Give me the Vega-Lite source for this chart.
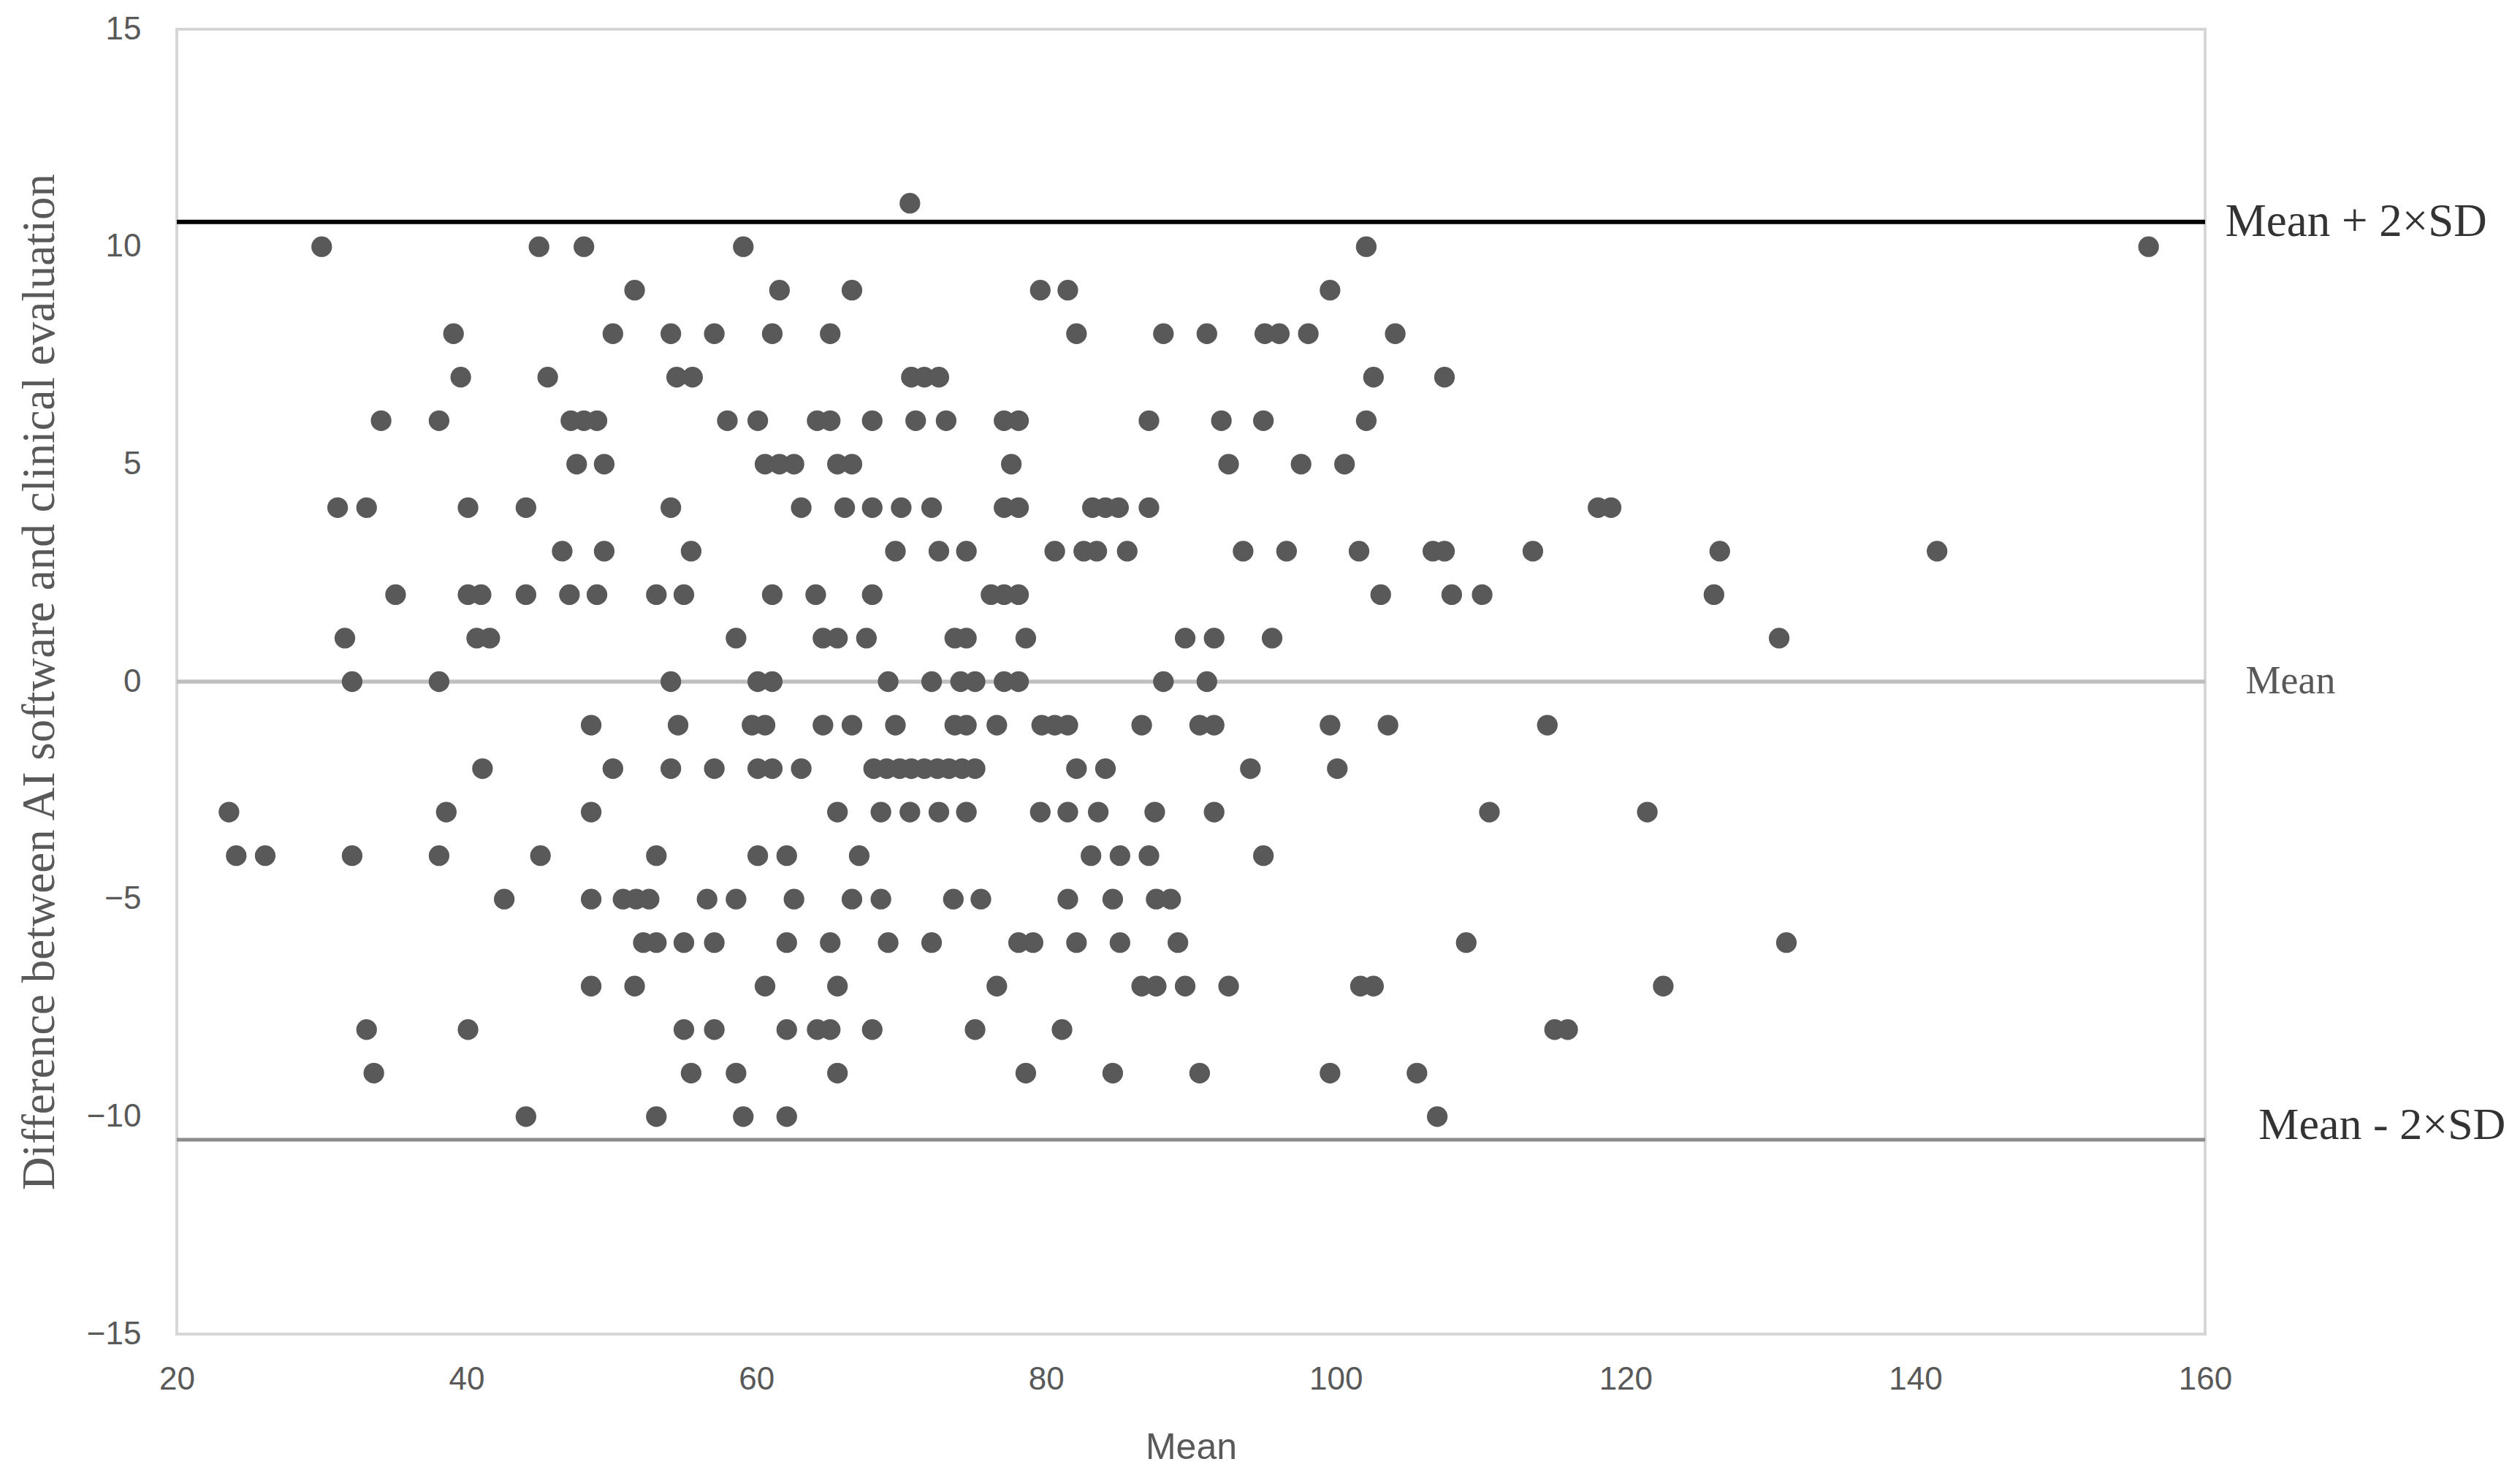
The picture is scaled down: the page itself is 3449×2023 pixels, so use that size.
{
  "$schema": "https://vega.github.io/schema/vega-lite/v6.json",
  "width": 2776,
  "height": 1786,
  "autosize": {"type": "none"},
  "padding": {"left": 242, "top": 40, "right": 431, "bottom": 197},
  "background": "white",
  "config": {"view": {"stroke": "#d6d6d6", "strokeWidth": 4}},
  "datasets": {
    "lines": [
      {"label": "Mean + 2×SD", "value": 10.57},
      {"label": "Mean", "value": 0},
      {"label": "Mean - 2×SD", "value": -10.53}
    ],
    "points": [
      {"mean": 70.6, "diff": 11},
      {"mean": 30.0, "diff": 10}, {"mean": 45.0, "diff": 10}, {"mean": 48.1, "diff": 10}, {"mean": 59.1, "diff": 10}, {"mean": 102.1, "diff": 10}, {"mean": 156.1, "diff": 10},
      {"mean": 51.6, "diff": 9}, {"mean": 61.6, "diff": 9}, {"mean": 66.6, "diff": 9}, {"mean": 79.6, "diff": 9}, {"mean": 81.5, "diff": 9}, {"mean": 99.6, "diff": 9},
      {"mean": 39.1, "diff": 8}, {"mean": 50.1, "diff": 8}, {"mean": 54.1, "diff": 8}, {"mean": 57.1, "diff": 8}, {"mean": 61.1, "diff": 8}, {"mean": 65.1, "diff": 8}, {"mean": 82.1, "diff": 8}, {"mean": 88.1, "diff": 8}, {"mean": 91.1, "diff": 8}, {"mean": 95.1, "diff": 8}, {"mean": 96.1, "diff": 8}, {"mean": 98.1, "diff": 8}, {"mean": 104.1, "diff": 8},
      {"mean": 39.6, "diff": 7}, {"mean": 45.6, "diff": 7}, {"mean": 54.5, "diff": 7}, {"mean": 55.6, "diff": 7}, {"mean": 70.7, "diff": 7}, {"mean": 71.6, "diff": 7}, {"mean": 72.6, "diff": 7}, {"mean": 102.6, "diff": 7}, {"mean": 107.5, "diff": 7},
      {"mean": 34.1, "diff": 6}, {"mean": 38.1, "diff": 6}, {"mean": 47.2, "diff": 6}, {"mean": 48.1, "diff": 6}, {"mean": 49.0, "diff": 6}, {"mean": 58.0, "diff": 6}, {"mean": 60.1, "diff": 6}, {"mean": 64.2, "diff": 6}, {"mean": 65.1, "diff": 6}, {"mean": 68.0, "diff": 6}, {"mean": 71.0, "diff": 6}, {"mean": 73.1, "diff": 6}, {"mean": 77.1, "diff": 6}, {"mean": 78.1, "diff": 6}, {"mean": 87.1, "diff": 6}, {"mean": 92.1, "diff": 6}, {"mean": 95.0, "diff": 6}, {"mean": 102.1, "diff": 6},
      {"mean": 47.6, "diff": 5}, {"mean": 49.5, "diff": 5}, {"mean": 60.6, "diff": 5}, {"mean": 61.6, "diff": 5}, {"mean": 62.6, "diff": 5}, {"mean": 65.6, "diff": 5}, {"mean": 66.6, "diff": 5}, {"mean": 77.6, "diff": 5}, {"mean": 92.6, "diff": 5}, {"mean": 97.6, "diff": 5}, {"mean": 100.6, "diff": 5},
      {"mean": 31.1, "diff": 4}, {"mean": 33.1, "diff": 4}, {"mean": 40.1, "diff": 4}, {"mean": 44.1, "diff": 4}, {"mean": 54.1, "diff": 4}, {"mean": 63.1, "diff": 4}, {"mean": 66.1, "diff": 4}, {"mean": 68.0, "diff": 4}, {"mean": 70.0, "diff": 4}, {"mean": 72.1, "diff": 4}, {"mean": 77.1, "diff": 4}, {"mean": 78.1, "diff": 4}, {"mean": 83.2, "diff": 4}, {"mean": 84.1, "diff": 4}, {"mean": 85.0, "diff": 4}, {"mean": 87.1, "diff": 4}, {"mean": 118.1, "diff": 4}, {"mean": 119.0, "diff": 4},
      {"mean": 46.6, "diff": 3}, {"mean": 49.5, "diff": 3}, {"mean": 55.5, "diff": 3}, {"mean": 69.6, "diff": 3}, {"mean": 72.6, "diff": 3}, {"mean": 74.5, "diff": 3}, {"mean": 80.6, "diff": 3}, {"mean": 82.6, "diff": 3}, {"mean": 83.5, "diff": 3}, {"mean": 85.6, "diff": 3}, {"mean": 93.6, "diff": 3}, {"mean": 96.6, "diff": 3}, {"mean": 101.6, "diff": 3}, {"mean": 106.7, "diff": 3}, {"mean": 107.5, "diff": 3}, {"mean": 113.6, "diff": 3}, {"mean": 126.5, "diff": 3}, {"mean": 141.5, "diff": 3},
      {"mean": 35.1, "diff": 2}, {"mean": 40.1, "diff": 2}, {"mean": 41.0, "diff": 2}, {"mean": 44.1, "diff": 2}, {"mean": 47.1, "diff": 2}, {"mean": 49.0, "diff": 2}, {"mean": 53.1, "diff": 2}, {"mean": 55.0, "diff": 2}, {"mean": 61.1, "diff": 2}, {"mean": 64.1, "diff": 2}, {"mean": 68.0, "diff": 2}, {"mean": 76.2, "diff": 2}, {"mean": 77.1, "diff": 2}, {"mean": 78.1, "diff": 2}, {"mean": 103.1, "diff": 2}, {"mean": 108.0, "diff": 2}, {"mean": 110.1, "diff": 2}, {"mean": 126.1, "diff": 2},
      {"mean": 31.6, "diff": 1}, {"mean": 40.7, "diff": 1}, {"mean": 41.6, "diff": 1}, {"mean": 58.6, "diff": 1}, {"mean": 64.6, "diff": 1}, {"mean": 65.6, "diff": 1}, {"mean": 67.6, "diff": 1}, {"mean": 73.7, "diff": 1}, {"mean": 74.5, "diff": 1}, {"mean": 78.6, "diff": 1}, {"mean": 89.6, "diff": 1}, {"mean": 91.6, "diff": 1}, {"mean": 95.6, "diff": 1}, {"mean": 130.6, "diff": 1},
      {"mean": 32.1, "diff": 0}, {"mean": 38.1, "diff": 0}, {"mean": 54.1, "diff": 0}, {"mean": 60.1, "diff": 0}, {"mean": 61.1, "diff": 0}, {"mean": 69.1, "diff": 0}, {"mean": 72.1, "diff": 0}, {"mean": 74.1, "diff": 0}, {"mean": 75.1, "diff": 0}, {"mean": 77.1, "diff": 0}, {"mean": 78.1, "diff": 0}, {"mean": 88.1, "diff": 0}, {"mean": 91.1, "diff": 0},
      {"mean": 48.6, "diff": -1}, {"mean": 54.6, "diff": -1}, {"mean": 59.7, "diff": -1}, {"mean": 60.6, "diff": -1}, {"mean": 64.6, "diff": -1}, {"mean": 66.6, "diff": -1}, {"mean": 69.6, "diff": -1}, {"mean": 73.7, "diff": -1}, {"mean": 74.5, "diff": -1}, {"mean": 76.6, "diff": -1}, {"mean": 79.7, "diff": -1}, {"mean": 80.6, "diff": -1}, {"mean": 81.5, "diff": -1}, {"mean": 86.6, "diff": -1}, {"mean": 90.6, "diff": -1}, {"mean": 91.6, "diff": -1}, {"mean": 99.6, "diff": -1}, {"mean": 103.6, "diff": -1}, {"mean": 114.6, "diff": -1},
      {"mean": 41.1, "diff": -2}, {"mean": 50.1, "diff": -2}, {"mean": 54.1, "diff": -2}, {"mean": 57.1, "diff": -2}, {"mean": 60.1, "diff": -2}, {"mean": 61.1, "diff": -2}, {"mean": 63.1, "diff": -2}, {"mean": 68.1, "diff": -2}, {"mean": 69.0, "diff": -2}, {"mean": 69.9, "diff": -2}, {"mean": 70.7, "diff": -2}, {"mean": 71.6, "diff": -2}, {"mean": 72.5, "diff": -2}, {"mean": 73.3, "diff": -2}, {"mean": 74.2, "diff": -2}, {"mean": 75.1, "diff": -2}, {"mean": 82.1, "diff": -2}, {"mean": 84.1, "diff": -2}, {"mean": 94.1, "diff": -2}, {"mean": 100.1, "diff": -2},
      {"mean": 23.6, "diff": -3}, {"mean": 38.6, "diff": -3}, {"mean": 48.6, "diff": -3}, {"mean": 65.6, "diff": -3}, {"mean": 68.6, "diff": -3}, {"mean": 70.6, "diff": -3}, {"mean": 72.6, "diff": -3}, {"mean": 74.5, "diff": -3}, {"mean": 79.6, "diff": -3}, {"mean": 81.5, "diff": -3}, {"mean": 83.6, "diff": -3}, {"mean": 87.5, "diff": -3}, {"mean": 91.6, "diff": -3}, {"mean": 110.6, "diff": -3}, {"mean": 121.5, "diff": -3},
      {"mean": 24.1, "diff": -4}, {"mean": 26.1, "diff": -4}, {"mean": 32.1, "diff": -4}, {"mean": 38.1, "diff": -4}, {"mean": 45.1, "diff": -4}, {"mean": 53.1, "diff": -4}, {"mean": 60.1, "diff": -4}, {"mean": 62.1, "diff": -4}, {"mean": 67.1, "diff": -4}, {"mean": 83.1, "diff": -4}, {"mean": 85.1, "diff": -4}, {"mean": 87.1, "diff": -4}, {"mean": 95.0, "diff": -4},
      {"mean": 42.6, "diff": -5}, {"mean": 48.6, "diff": -5}, {"mean": 50.8, "diff": -5}, {"mean": 51.7, "diff": -5}, {"mean": 52.6, "diff": -5}, {"mean": 56.6, "diff": -5}, {"mean": 58.6, "diff": -5}, {"mean": 62.6, "diff": -5}, {"mean": 66.6, "diff": -5}, {"mean": 68.6, "diff": -5}, {"mean": 73.6, "diff": -5}, {"mean": 75.5, "diff": -5}, {"mean": 81.5, "diff": -5}, {"mean": 84.6, "diff": -5}, {"mean": 87.6, "diff": -5}, {"mean": 88.6, "diff": -5},
      {"mean": 52.2, "diff": -6}, {"mean": 53.1, "diff": -6}, {"mean": 55.0, "diff": -6}, {"mean": 57.1, "diff": -6}, {"mean": 62.1, "diff": -6}, {"mean": 65.1, "diff": -6}, {"mean": 69.1, "diff": -6}, {"mean": 72.1, "diff": -6}, {"mean": 78.1, "diff": -6}, {"mean": 79.1, "diff": -6}, {"mean": 82.1, "diff": -6}, {"mean": 85.1, "diff": -6}, {"mean": 89.1, "diff": -6}, {"mean": 109.0, "diff": -6}, {"mean": 131.1, "diff": -6},
      {"mean": 48.6, "diff": -7}, {"mean": 51.6, "diff": -7}, {"mean": 60.6, "diff": -7}, {"mean": 65.6, "diff": -7}, {"mean": 76.6, "diff": -7}, {"mean": 86.6, "diff": -7}, {"mean": 87.6, "diff": -7}, {"mean": 89.6, "diff": -7}, {"mean": 92.6, "diff": -7}, {"mean": 101.7, "diff": -7}, {"mean": 102.6, "diff": -7}, {"mean": 122.6, "diff": -7},
      {"mean": 33.1, "diff": -8}, {"mean": 40.1, "diff": -8}, {"mean": 55.0, "diff": -8}, {"mean": 57.1, "diff": -8}, {"mean": 62.1, "diff": -8}, {"mean": 64.2, "diff": -8}, {"mean": 65.1, "diff": -8}, {"mean": 68.0, "diff": -8}, {"mean": 75.1, "diff": -8}, {"mean": 81.1, "diff": -8}, {"mean": 115.1, "diff": -8}, {"mean": 116.0, "diff": -8},
      {"mean": 33.6, "diff": -9}, {"mean": 55.5, "diff": -9}, {"mean": 58.6, "diff": -9}, {"mean": 65.6, "diff": -9}, {"mean": 78.6, "diff": -9}, {"mean": 84.6, "diff": -9}, {"mean": 90.6, "diff": -9}, {"mean": 99.6, "diff": -9}, {"mean": 105.6, "diff": -9},
      {"mean": 44.1, "diff": -10}, {"mean": 53.1, "diff": -10}, {"mean": 59.1, "diff": -10}, {"mean": 62.1, "diff": -10}, {"mean": 107.0, "diff": -10}
    ]
  },
  "layer": [
    {
      "data": {"name": "lines"},
      "mark": {"type": "rule"},
      "encoding": {
        "y": {"field": "value", "type": "quantitative", "scale": {"domain": [-15, 15], "nice": false, "zero": false}, "title": "Difference between AI software and clinical evaluation"},
        "color": {"field": "label", "type": "nominal", "scale": {"domain": ["Mean + 2×SD", "Mean", "Mean - 2×SD"], "range": ["#000000", "#bfbfbf", "#8c8c8c"]}, "legend": null},
        "strokeWidth": {"field": "label", "type": "nominal", "scale": {"domain": ["Mean + 2×SD", "Mean", "Mean - 2×SD"], "range": [6, 5, 5]}, "legend": null}
      }
    },
    {
      "data": {"name": "points"},
      "mark": {"type": "circle", "size": 800, "opacity": 1, "color": "#595959"},
      "encoding": {
        "x": {
          "field": "mean", "type": "quantitative",
          "scale": {"domain": [20, 160], "nice": false, "zero": false},
          "axis": {"values": [20, 40, 60, 80, 100, 120, 140, 160], "format": "d", "labelFlush": false, "domain": false, "ticks": false, "grid": false, "labelFont": "Liberation Sans", "labelFontSize": 44, "labelColor": "#595959", "labelPadding": 40, "title": "Mean", "titleFont": "Liberation Sans", "titleFontSize": 50, "titleFontWeight": "normal", "titleColor": "#595959", "titlePadding": 46},
          "title": "Mean"
        },
        "y": {
          "field": "diff", "type": "quantitative",
          "scale": {"domain": [-15, 15], "nice": false, "zero": false},
          "axis": {"values": [-15, -10, -5, 0, 5, 10, 15], "format": "d", "labelFlush": false, "domain": false, "ticks": false, "grid": false, "labelFont": "Liberation Sans", "labelFontSize": 44, "labelColor": "#595959", "labelPadding": 49, "titleFont": "Liberation Serif", "titleFontSize": 63, "titleFontWeight": "normal", "titleColor": "#595959", "titlePadding": 32},
          "title": "Difference between AI software and clinical evaluation"
        }
      }
    },
    {
      "data": {"name": "lines"},
      "transform": [{"filter": "datum.label === 'Mean + 2×SD'"}],
      "mark": {"type": "text", "align": "left", "baseline": "middle", "font": "Liberation Serif", "fontSize": 63, "color": "#333333"},
      "encoding": {
        "x": {"datum": 161.4, "type": "quantitative"},
        "y": {"field": "value", "type": "quantitative", "title": "Difference between AI software and clinical evaluation"},
        "text": {"field": "label"}
      }
    },
    {
      "data": {"name": "lines"},
      "transform": [{"filter": "datum.label === 'Mean'"}],
      "mark": {"type": "text", "align": "left", "baseline": "middle", "font": "Liberation Serif", "fontSize": 54, "color": "#595959"},
      "encoding": {
        "x": {"datum": 162.8, "type": "quantitative"},
        "y": {"field": "value", "type": "quantitative", "title": "Difference between AI software and clinical evaluation"},
        "text": {"field": "label"}
      }
    },
    {
      "data": {"name": "lines"},
      "transform": [{"filter": "datum.label === 'Mean - 2×SD'"}],
      "mark": {"type": "text", "align": "left", "baseline": "middle", "font": "Liberation Serif", "fontSize": 62, "color": "#333333", "dy": -20},
      "encoding": {
        "x": {"datum": 163.7, "type": "quantitative"},
        "y": {"field": "value", "type": "quantitative", "title": "Difference between AI software and clinical evaluation"},
        "text": {"field": "label"}
      }
    }
  ]
}
